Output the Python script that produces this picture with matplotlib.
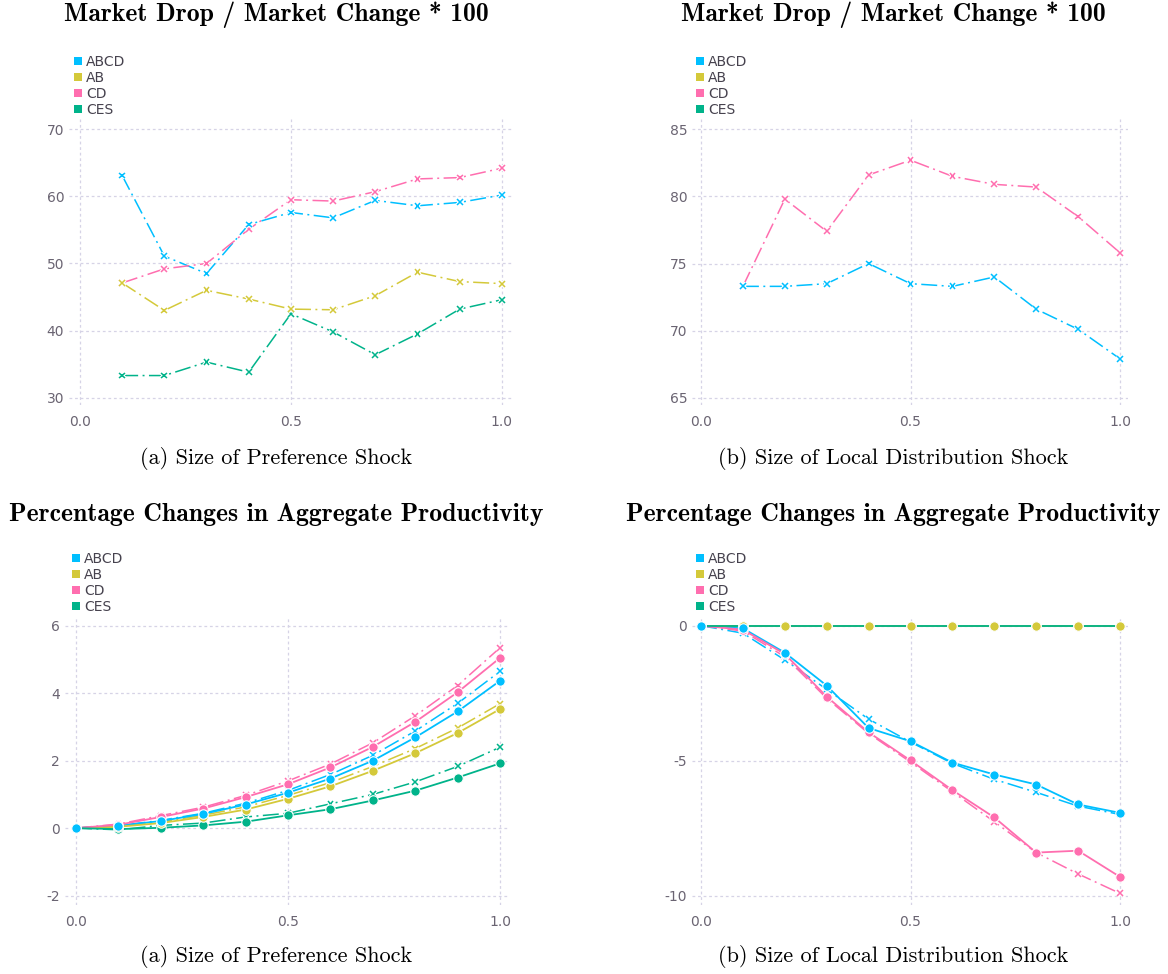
import numpy as np
import matplotlib
matplotlib.use("Agg")
import matplotlib.pyplot as plt
from matplotlib.lines import Line2D
import matplotlib.patheffects as pe

plt.rcParams["lines.scale_dashes"] = False
plt.rcParams["font.family"] = ["DejaVu Sans"]
plt.rcParams["axes.unicode_minus"] = False

W, H = 1168, 974

SERIES = ["ABCD", "AB", "CD", "CES"]
COLORS = {"ABCD": "#00bfff", "AB": "#d4c93a", "CD": "#ff6eaf", "CES": "#00b38a"}

# shock sizes
X_TOP = [0.1, 0.2, 0.3, 0.4, 0.5, 0.6, 0.7, 0.8, 0.9, 1.0]
X_BOT = [0.0, 0.1, 0.2, 0.3, 0.4, 0.5, 0.6, 0.7, 0.8, 0.9, 1.0]

# market drop / market change * 100, preference shock
drop_pref = {
    "ABCD": [63.1, 51.1, 48.5, 55.8, 57.6, 56.8, 59.4, 58.6, 59.1, 60.2],
    "AB":   [47.1, 43.0, 46.0, 44.7, 43.2, 43.1, 45.2, 48.7, 47.3, 47.0],
    "CD":   [47.1, 49.2, 50.0, 55.1, 59.5, 59.3, 60.7, 62.6, 62.8, 64.2],
    "CES":  [33.3, 33.3, 35.3, 33.8, 42.5, 39.8, 36.4, 39.5, 43.2, 44.6],
}
# market drop / market change * 100, local distribution shock
drop_dist = {
    "ABCD": [73.3, 73.3, 73.5, 75.0, 73.5, 73.3, 74.0, 71.6, 70.1, 67.9],
    "CD":   [73.3, 79.8, 77.4, 81.6, 82.7, 81.5, 80.9, 80.7, 78.5, 75.8],
}

# productivity change (%), preference shock: solid = circles, dashed = crosses
prod_pref_solid = {
    "ABCD": [0, 0.07, 0.21, 0.42, 0.70, 1.05, 1.47, 2.00, 2.69, 3.46, 4.37],
    "AB":   [0, 0.04, 0.15, 0.33, 0.55, 0.87, 1.24, 1.70, 2.22, 2.82, 3.53],
    "CD":   [0, 0.10, 0.33, 0.58, 0.92, 1.30, 1.80, 2.41, 3.15, 4.03, 5.05],
    "CES":  [0, -0.03, 0.01, 0.08, 0.19, 0.38, 0.56, 0.82, 1.11, 1.50, 1.92],
}
prod_pref_dash = {
    "ABCD": [0, 0.07, 0.23, 0.44, 0.74, 1.12, 1.59, 2.16, 2.88, 3.70, 4.65],
    "AB":   [0, 0.05, 0.18, 0.38, 0.63, 0.97, 1.35, 1.83, 2.36, 2.97, 3.69],
    "CD":   [0, 0.12, 0.37, 0.62, 0.97, 1.40, 1.90, 2.53, 3.33, 4.23, 5.35],
    "CES":  [0, -0.05, 0.08, 0.15, 0.33, 0.44, 0.72, 1.00, 1.37, 1.83, 2.40],
}

# productivity change (%), local distribution shock
prod_dist_solid = {
    "ABCD": [0, -0.10, -1.00, -2.22, -3.79, -4.28, -5.07, -5.51, -5.88, -6.62, -6.93],
    "AB":   [0, 0, 0, 0, 0, 0, 0, 0, 0, 0, 0],
    "CD":   [0, -0.15, -1.05, -2.63, -3.95, -4.99, -6.09, -7.10, -8.40, -8.33, -9.30],
    "CES":  [0, 0, 0, 0, 0, 0, 0, 0, 0, 0, 0],
}
prod_dist_dash = {
    "ABCD": [0, -0.28, -1.27, -2.36, -3.46, -4.31, -5.10, -5.69, -6.17, -6.68, -6.99],
    "AB":   [0, 0, 0, 0, 0, 0, 0, 0, 0, 0, 0],
    "CD":   [0, -0.20, -1.15, -2.69, -3.99, -5.05, -6.15, -7.26, -8.40, -9.19, -9.91],
    "CES":  [0, 0, 0, 0, 0, 0, 0, 0, 0, 0, 0],
}

TITLE_TOP = "Market Drop / Market Change * 100"
TITLE_BOT = "Percentage Changes in Aggregate Productivity"
CAP_A = "(a) Size of Preference Shock"
CAP_B = "(b) Size of Local Distribution Shock"

DASH = (0, (11.5, 3.2, 1.4, 3.2))
TICK_COL = "#6a6472"
GRID_COL = "#d6d3e6"
# lines go down in legend order, markers in reverse so ABCD ends up on top
LINE_Z = {"ABCD": 2.0, "AB": 2.1, "CD": 2.2, "CES": 2.3}
MARK_Z = {"CES": 5.0, "CD": 5.1, "AB": 5.2, "ABCD": 5.3}


def px_box(l, t, r, b):
    return [l / W, 1 - b / H, (r - l) / W, (b - t) / H]


def style_axes(ax, xlim, ylim, yticks):
    ax.set_xlim(*xlim)
    ax.set_ylim(*ylim)
    ax.set_xticks([0, 0.5, 1.0])
    ax.set_xticklabels(["0.0", "0.5", "1.0"])
    ax.set_yticks(yticks)
    ax.set_yticklabels([f"{t:g}" for t in yticks])
    ax.grid(True, color=GRID_COL, linestyle=(0, (2.0, 2.0)), linewidth=0.9)
    ax.set_axisbelow(True)
    for s in ax.spines.values():
        s.set_visible(False)
    ax.tick_params(length=0, labelsize=10, colors=TICK_COL)
    ax.tick_params(axis="x", pad=7)
    ax.tick_params(axis="y", pad=3.5)


def add_legend(ax, x_px, y_px):
    handles = [Line2D([], [], ls="none", marker="s", ms=6.3, mew=0,
                      color=COLORS[s]) for s in SERIES]
    leg = ax.legend(handles, SERIES, loc="lower left",
                    bbox_to_anchor=(x_px / W, 1 - y_px / H),
                    bbox_transform=ax.figure.transFigure,
                    frameon=False, fontsize=10, borderpad=0, borderaxespad=0,
                    handlelength=0.7, handletextpad=0.25, labelspacing=0.15)
    for t in leg.get_texts():
        t.set_color("#46424e")


def cross_line(ax, x, y, s):
    ax.plot(x, y, color=COLORS[s], lw=1.1, ls=DASH, zorder=LINE_Z[s])
    ax.plot(x, y, ls="none", marker="x", ms=4.2, mew=1.1, color=COLORS[s],
            zorder=MARK_Z[s] - 1,
            path_effects=[pe.withStroke(linewidth=2.6, foreground="white")])


def dot_line(ax, x, y, s):
    ax.plot(x, y, color=COLORS[s], lw=1.3, zorder=LINE_Z[s] + 0.5)
    ax.plot(x, y, ls="none", marker="o", ms=6.8, mec="white", mew=0.8,
            color=COLORS[s], zorder=MARK_Z[s])


fig = plt.figure(figsize=(W / 100, H / 100), dpi=100)
fig.patch.set_facecolor("white")

# top left: preference shock, market drop share
ax1 = fig.add_axes(px_box(69, 119, 512, 405))
for s in SERIES:
    cross_line(ax1, X_TOP, drop_pref[s], s)
style_axes(ax1, (-0.026, 1.024), (28.91, 71.53), [30, 40, 50, 60, 70])
add_legend(ax1, 73, 117)

# top right: local distribution shock, market drop share
ax2 = fig.add_axes(px_box(692, 119, 1128, 405))
for s in SERIES:
    if s in drop_dist:
        cross_line(ax2, X_TOP, drop_dist[s], s)
style_axes(ax2, (-0.0215, 1.019), (64.46, 85.77), [65, 70, 75, 80, 85])
add_legend(ax2, 695, 117)

# bottom left: preference shock, productivity
ax3 = fig.add_axes(px_box(65, 617, 509, 905))
for s in SERIES:
    cross_line(ax3, X_BOT, prod_pref_dash[s], s)
    dot_line(ax3, X_BOT, prod_pref_solid[s], s)
style_axes(ax3, (-0.026, 1.021), (-2.28, 6.26), [-2, 0, 2, 4, 6])
add_legend(ax3, 71, 614)

# bottom right: local distribution shock, productivity
ax4 = fig.add_axes(px_box(692, 617, 1128, 905))
for s in SERIES:
    cross_line(ax4, X_BOT, prod_dist_dash[s], s)
    dot_line(ax4, X_BOT, prod_dist_solid[s], s)
style_axes(ax4, (-0.0215, 1.019), (-10.34, 0.32), [-10, -5, 0])
add_legend(ax4, 695, 614)

# panel titles and captions
for cx, cap in [(276, CAP_A), (893, CAP_B)]:
    fig.text(cx / W, 1 - 15 / H, TITLE_TOP, ha="center", va="center",
             family="cmb10", fontsize=18.5)
    fig.text(cx / W, 1 - 514 / H, TITLE_BOT, ha="center", va="center",
             family="cmb10", fontsize=18.5)
    fig.text(cx / W, 1 - 459 / H, cap, ha="center", va="center",
             family="cmr10", fontsize=16)
    fig.text(cx / W, 1 - 957 / H, cap, ha="center", va="center",
             family="cmr10", fontsize=16)

fig.savefig("out.png", dpi=100, facecolor="white")
